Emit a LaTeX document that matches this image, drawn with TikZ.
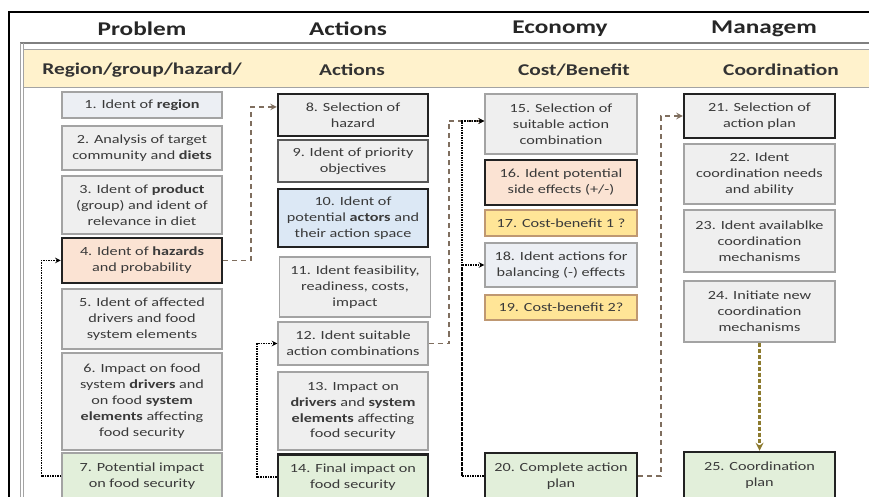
\documentclass[tikz,border=0pt]{standalone}
\usepackage{fontspec}
\setmainfont{Carlito}[FakeStretch=1.3]
\usetikzlibrary{calc}

\definecolor{boxfill}{HTML}{EFEFEF}
\definecolor{bluegrey}{HTML}{ECEFF4}
\definecolor{hazard}{HTML}{FBE3D3}
\definecolor{actor}{HTML}{DCE8F5}
\definecolor{gold}{HTML}{FFE597}
\definecolor{result}{HTML}{E2EFDA}
\definecolor{bandfill}{HTML}{FFF2CC}
\definecolor{thinline}{HTML}{A3A3A3}
\definecolor{keyline}{HTML}{222222}
\definecolor{boxtext}{HTML}{3A3A3A}
\definecolor{flowbrown}{HTML}{7F6E5E}
\definecolor{olive}{HTML}{8C7A2E}

\tikzset{
  box/.style={draw=thinline, fill=boxfill, line width=1.2bp, align=center,
    text=boxtext, inner sep=1bp, font=\fontsize{12.5}{16}\selectfont},
  key/.style={box, draw=keyline, line width=2.5bp},
  costbox/.style={box, draw=thinline!70!orange, fill=gold},
  head/.style={font=\fontsize{19.5}{21}\selectfont\bfseries, text=black!85},
  bandtext/.style={font=\fontsize{16.5}{18}\selectfont\bfseries, text=black!80},
  flowdash/.style={draw=flowbrown, line width=1.8bp, dash pattern=on 5bp off 4bp},
  flowdot/.style={draw=black, line width=1.5bp, densely dotted},
}

\begin{document}
\begin{tikzpicture}[x=1bp,y=-1bp,>=stealth]
  \useasboundingbox (0,0) rectangle (869,497);
  % frame and headers
  \draw[black, line width=1.5bp] (9,497) -- (9,12) -- (869,12);
  \fill[bandfill] (23,50) rectangle (869,88);
  \draw[thinline, line width=1bp] (23,50) -- (869,50);
  \draw[thinline, line width=1bp] (23,88) -- (869,88);
  \draw[gray, line width=2bp] (20,43) -- (869,43);
  \draw[thinline, line width=1bp] (20,43) -- (20,497);
  \draw[thinline, line width=1bp] (23,43) -- (23,497);

  \node[head] (hProblem) at (142,29) {Problem};
  \node[head] (hActions) at (348,29) {Actions};
  \node[head] (hEconomy) at (560,29) {Economy};
  \node[head] (hManage) at (764,29) {Managem};
  \node[bandtext] (sRegion) at (142,70) {Region/group/hazard/};
  \node[bandtext] (sActions) at (352,70) {Actions};
  \node[bandtext] (sCost) at (574,70) {Cost/Benefit};
  \node[bandtext] (sCoord) at (781,70) {Coordination};

  % problem column
  \node[box, fill=bluegrey, minimum width=160bp, minimum height=26bp] (b1) at (142,105) {1. Ident of \textbf{region}};
  \node[box, minimum width=160bp, minimum height=44bp] (b2) at (142,148) {2. Analysis of target\\community and \textbf{diets}};
  \node[box, minimum width=160bp, minimum height=58bp] (b3) at (142,205) {3. Ident of \textbf{product}\\(group) and ident of\\relevance in diet};
  \node[key, fill=hazard, minimum width=160bp, minimum height=45bp] (b4) at (142,260.5) {4. Ident of \textbf{hazards}\\and probability};
  \node[box, minimum width=160bp, minimum height=60bp] (b5) at (142,319) {5. Ident of affected\\drivers and food\\system elements};
  \node[box, minimum width=160bp, minimum height=97bp] (b6) at (142,401.5) {6. Impact on food\\system \textbf{drivers} and\\on food \textbf{system}\\\textbf{elements} affecting\\food security};
  \node[box, fill=result, minimum width=160bp, minimum height=46bp] (b7) at (142,476) {7. Potential impact\\on food security};

  % actions column
  \node[key, minimum width=150bp, minimum height=42bp] (b8) at (353,115) {8. Selection of\\hazard};
  \node[box, draw=black!65, line width=1.8bp, minimum width=150bp, minimum height=42bp] (b9) at (353,161) {9. Ident of priority\\objectives};
  \node[key, fill=actor, minimum width=150bp, minimum height=58bp] (b10) at (353,218) {10. Ident of\\potential \textbf{actors} and\\their action space};
  \node[box, minimum width=151bp, minimum height=60bp] (b11) at (355,287) {11. Ident feasibility,\\readiness, costs,\\impact};
  \node[box, minimum width=150bp, minimum height=43bp] (b12) at (353,343.5) {12. Ident suitable\\action combinations};
  \node[box, minimum width=150bp, minimum height=78bp] (b13) at (353,411) {13. Impact on\\\textbf{drivers} and \textbf{system}\\\textbf{elements} affecting\\food security};
  \node[key, fill=result, minimum width=150bp, minimum height=45bp] (b14) at (353,477) {14. Final impact on\\food security};

  % economy column
  \node[box, minimum width=152bp, minimum height=60bp] (b15) at (561,124) {15. Selection of\\suitable action\\combination};
  \node[key, fill=hazard, minimum width=152bp, minimum height=45bp] (b16) at (561,182.5) {16. Ident potential\\side effects (+/-)};
  \node[costbox, minimum width=152bp, minimum height=26bp] (b17) at (561,223) {17. Cost-benefit 1 ?};
  \node[box, fill=bluegrey, minimum width=152bp, minimum height=44bp] (b18) at (561,265) {18. Ident actions for\\balancing (-) effects};
  \node[costbox, minimum width=152bp, minimum height=25bp] (b19) at (561,307.5) {19. Cost-benefit 2?};
  \node[key, fill=result, minimum width=152bp, minimum height=46bp] (b20) at (561,476) {20. Complete action\\plan};

  % management column
  \node[key, minimum width=151bp, minimum height=44bp] (b21) at (759.5,116) {21. Selection of\\action plan};
  \node[box, minimum width=151bp, minimum height=60bp] (b22) at (759.5,174) {22. Ident\\coordination needs\\and ability};
  \node[box, minimum width=151bp, minimum height=62bp] (b23) at (759.5,241) {23. Ident availablke\\coordination\\mechanisms};
  \node[box, minimum width=151bp, minimum height=61bp] (b24) at (759.5,311.5) {24. Initiate new\\coordination\\mechanisms};
  \node[key, fill=result, minimum width=151bp, minimum height=47bp] (b25) at (759.5,475.5) {25. Coordination\\plan};

  % connectors
  \draw[flowdash,->] (b4.east) -- ++(28,0) |- ([yshift=8bp]b8.west);
  \draw[flowdot,->] (b7.west) -- ++(-20,0) |- (b4.west);
  \draw[flowdot,->] (b14.west) -- ++(-20,0) |- (b12.west);
  \draw[flowdash,->] (b12.east) -- ++(20,0) |- ([yshift=3bp]b15.west);
  \draw[flowdot,->] (b20.west) -- ++(-22,0) |- ([yshift=3bp]b15.west);
  \draw[flowdot,->] ([xshift=-22bp]b20.west) |- (b18.west);
  \draw[flowdash,->] (b20.east) -- ++(23,0) |- (b21.west);
  \draw[draw=olive, line width=2.5bp, dash pattern=on 4bp off 2bp,->] (b24.south) -- (b25.north);
\end{tikzpicture}
\end{document}
